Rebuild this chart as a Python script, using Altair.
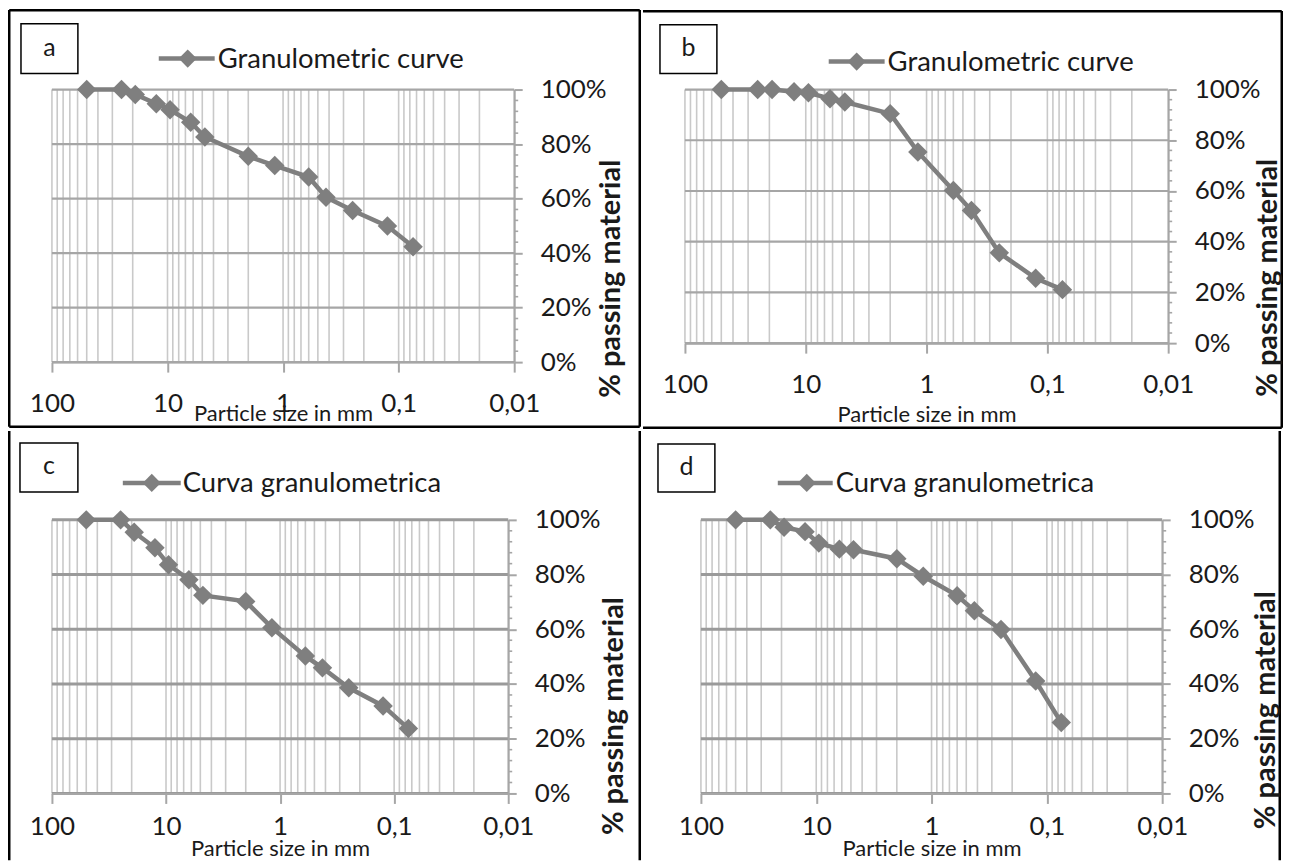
import altair as alt
import pandas as pd

# Sieve sizes (mm) shared by all four curves
sizes = [50, 25, 19, 12.5, 9.5, 6.3, 4.75, 2, 1.18, 0.6, 0.425, 0.25, 0.125, 0.075]

# % passing (fraction)
pass_a = [1.00, 1.00, 0.982, 0.948, 0.926, 0.880, 0.826, 0.755, 0.721, 0.679, 0.605, 0.556, 0.499, 0.423]
pass_b = [1.00, 1.00, 1.00, 0.991, 0.987, 0.964, 0.951, 0.905, 0.754, 0.602, 0.523, 0.356, 0.256, 0.211]
pass_c = [1.00, 1.00, 0.955, 0.898, 0.836, 0.781, 0.724, 0.702, 0.606, 0.502, 0.459, 0.386, 0.320, 0.237]
pass_d = [1.00, 1.00, 0.973, 0.957, 0.915, 0.893, 0.891, 0.858, 0.794, 0.723, 0.668, 0.599, 0.411, 0.259]

legend_en = "Granulometric curve"
legend_it = "Curva granulometrica"
x_title = "Particle size in mm"
y_title = "% passing material"

x_major = [100, 10, 1, 0.1, 0.01]
x_grid = [m * 10.0 ** e for e in (1, 0, -1, -2) for m in range(1, 10)] + [100]
y_major = [0, 0.2, 0.4, 0.6, 0.8, 1.0]
y_minor = [0.04, 0.08, 0.12, 0.16, 0.24, 0.28, 0.32, 0.36, 0.44, 0.48, 0.52, 0.56,
           0.64, 0.68, 0.72, 0.76, 0.84, 0.88, 0.92, 0.96]

FONT = "Lato"
GREY = "#7f7f7f"
TXT = "#1a1a1a"
BW = 2.5  # border width


def panel(vals, legend_label, letter, W, H, ox, oy, CW, CH, borders, box, leg,
          ytx, yty, xty, lpad, hcol, hw):
    df = pd.DataFrame({"size": sizes, "passing": vals})
    one = pd.DataFrame({"k": [0]})
    xs = alt.Scale(type="log", domain=[0.01, 100], reverse=True, nice=False)
    ys = alt.Scale(domain=[0, 1], nice=False, zero=False)

    x_axis = alt.Axis(
        values=x_major, grid=False, tickSize=10, tickColor="#a6a6a6", tickWidth=2,
        domainColor="#a6a6a6", domainWidth=2, zindex=1,
        labelExpr="replace(toString(datum.value), '.', ',')",
        labelFlush=False, labelOverlap=False, labelBaseline="middle", labelPadding=lpad,
        labelFont=FONT, labelFontSize=26, labelColor=TXT,
        title=x_title, titleFont=FONT, titleFontSize=22, titleFontWeight="normal",
        titleColor=TXT, titleX=W / 2, titleY=xty, titleAlign="center",
        titleBaseline="alphabetic")
    y_axis = alt.Axis(
        orient="right", values=y_major, format=".0%", grid=False, tickSize=8,
        tickColor="#a6a6a6", tickWidth=2, domainColor="#a6a6a6", domainWidth=2,
        zindex=1, labelPadding=18, labelFont=FONT, labelFontSize=26, labelColor=TXT,
        labelAlign="left", labelBaseline="middle", labelOverlap=False,
        title=y_title, titleFont=FONT, titleFontSize=29, titleFontWeight="bold",
        titleColor=TXT, titleAngle=270, titleX=ytx, titleY=yty,
        titleAlign="center", titleBaseline="middle")

    layers = []
    # cell extent (transparent)
    layers.append(alt.Chart(one).mark_rect(fill="white", opacity=0, strokeWidth=0).encode(
        x=alt.value(-ox), x2=alt.value(CW - ox), y=alt.value(-oy), y2=alt.value(CH - oy)))
    # vertical log grid
    layers.append(alt.Chart(pd.DataFrame({"size": x_grid})).mark_rule(
        color="#c9c9c9", strokeWidth=1.6).encode(
        x=alt.X("size:Q", scale=xs, axis=x_axis), y=alt.value(0), y2=alt.value(H)))
    # horizontal major grid
    layers.append(alt.Chart(pd.DataFrame({"passing": y_major})).mark_rule(
        color=hcol, strokeWidth=hw).encode(
        y=alt.Y("passing:Q", scale=ys, axis=y_axis), x=alt.value(0), x2=alt.value(W)))
    # minor ticks on right axis
    layers.append(alt.Chart(pd.DataFrame({"passing": y_minor})).mark_rule(
        color="#a6a6a6", strokeWidth=1.6).encode(
        y=alt.Y("passing:Q", scale=ys, axis=y_axis), x=alt.value(W), x2=alt.value(W + 4)))
    # data line and markers
    layers.append(alt.Chart(df).mark_line(color=GREY, strokeWidth=4.5).encode(
        x=alt.X("size:Q", scale=xs, axis=x_axis),
        y=alt.Y("passing:Q", scale=ys, axis=y_axis)))
    layers.append(alt.Chart(df).mark_point(
        shape="diamond", filled=True, size=380, color=GREY, opacity=1).encode(
        x=alt.X("size:Q", scale=xs, axis=x_axis),
        y=alt.Y("passing:Q", scale=ys, axis=y_axis)))
    # borders of the figure grid
    for (x1, x2, y1, y2) in borders:
        layers.append(alt.Chart(one).mark_rule(color="black", strokeWidth=BW).encode(
            x=alt.value(x1), x2=alt.value(x2), y=alt.value(y1), y2=alt.value(y2)))
    # letter box
    bx1, bx2, by1, by2 = box
    layers.append(alt.Chart(one).mark_rect(fill="white", stroke="black", strokeWidth=1.5).encode(
        x=alt.value(bx1), x2=alt.value(bx2), y=alt.value(by1), y2=alt.value(by2)))
    layers.append(alt.Chart(one).mark_text(
        font=FONT, fontSize=25, color=TXT, align="center", baseline="middle").encode(
        x=alt.value((bx1 + bx2) / 2), y=alt.value((by1 + by2) / 2 - 1), text=alt.value(letter)))
    # legend
    lx1, lx2, ly, ldx, ltx = leg
    layers.append(alt.Chart(one).mark_rule(color=GREY, strokeWidth=4.5).encode(
        x=alt.value(lx1), x2=alt.value(lx2), y=alt.value(ly)))
    layers.append(alt.Chart(one).mark_point(
        shape="diamond", filled=True, size=330, color=GREY, opacity=1).encode(
        x=alt.value(ldx), y=alt.value(ly)))
    layers.append(alt.Chart(one).mark_text(
        font=FONT, fontSize=27.5, color=TXT, align="left", baseline="middle").encode(
        x=alt.value(ltx), y=alt.value(ly + 1), text=alt.value(legend_label)))

    return alt.layer(*layers).properties(width=W, height=H)


h = BW / 2
pa = panel(pass_a, legend_en, "a", W=463, H=273, ox=44, oy=81, CW=634, CH=420,
           borders=[(-44 + h, 590 - h, -79.5, -79.5), (-44 + h, -44 + h, -81 + h, 339 - h),
                    (590 - h, 590 - h, -81 + h, 339 - h), (-44 + h, 590 - h, 339 - h, 339 - h)],
           box=(-31, 26, -66, -16), leg=(107, 163, -31, 136, 166),
           ytx=96, yty=189, xty=58, lpad=31, hcol="#a6a6a6", hw=2.2)
pb = panel(pass_b, legend_en, "b", W=484, H=254, ox=42, oy=80, CW=641, CH=420,
           borders=[(-42, 599 - h, -78.5, -78.5), (599 - h, 599 - h, -80 + h, 340 - h),
                    (-42, 599 - h, 340 - h, 340 - h)],
           box=(-25, 32, -65, -16), leg=(144, 200, -28, 172, 203),
           ytx=99, yty=188, xty=78, lpad=31, hcol="#a6a6a6", hw=2.2)
pc = panel(pass_c, legend_it, "c", W=457, H=274, ox=44, oy=89, CW=634, CH=430,
           borders=[(-44 + h, -44 + h, -89, 341), (590 - h, 590 - h, -89, 341)],
           box=(-32, 26, -77, -28), leg=(71, 129, -37, 100, 131),
           ytx=105, yty=196, xty=62, lpad=23, hcol="#9a9a9a", hw=3)
pd_ = panel(pass_d, legend_it, "d", W=462, H=274, ox=60, oy=89, CW=641, CH=430,
            borders=[(581 - h, 581 - h, -89, 341)],
            box=(-43, 14, -76, -28), leg=(77, 132, -37, 106, 135),
            ytx=103, yty=190, xty=62, lpad=23, hcol="#9a9a9a", hw=3)

chart = alt.vconcat(
    alt.hconcat(pa, pb, spacing=0),
    alt.hconcat(pc, pd_, spacing=0),
    spacing=0,
).properties(padding=0, background="white").configure_view(strokeWidth=0)

chart.save("out.html", embed_options={"renderer": "svg", "actions": False})
